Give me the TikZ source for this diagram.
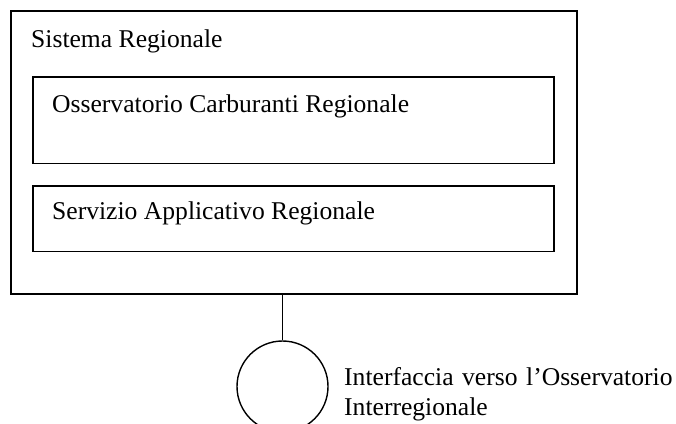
\documentclass[tikz,border=0pt]{standalone}
\usepackage{fontspec}
\setmainfont{Liberation Serif}
\begin{document}
\begin{tikzpicture}[x=1pt,y=-1pt,
    box/.style={draw, line width=1.4pt, rectangle, inner sep=0pt},
    port/.style={draw, line width=1.4pt, circle, inner sep=0pt, minimum size=91pt},
    lbl/.style={anchor=base west, inner sep=0pt, font=\fontsize{25.6}{30}\selectfont}
]
\clip (0,0) rectangle (676,423);
\useasboundingbox (0,0) rectangle (676,423);
    % contenitori
    \node[box, minimum width=566pt, minimum height=283pt] (sistema) at (294,152.5) {};
    \node[box, minimum width=521pt, minimum height=86.5pt] (osservatorio) at (293.5,120.25) {};
    \node[box, minimum width=521pt, minimum height=65.5pt] (servizio) at (293.5,218.75) {};
    % interfaccia
    \node[port] (interfaccia) at (282.5,386.5) {};
    \draw[line width=1.4pt] (interfaccia.north) -- (interfaccia.north |- sistema.south);
    % testi
    \node[lbl] (tsistema) at (31,47) {Sistema Regionale};
    \node[lbl] (tosserv) at (52,112) {Osservatorio Carburanti Regionale};
    \node[lbl] (tservizio) at (52,219.5) {Servizio Applicativo Regionale};
    \node[lbl, align=left, text width=340pt] (tinterf) at (344,385) {Interfaccia verso l’Osservatorio\\Interregionale};
\end{tikzpicture}
\end{document}
